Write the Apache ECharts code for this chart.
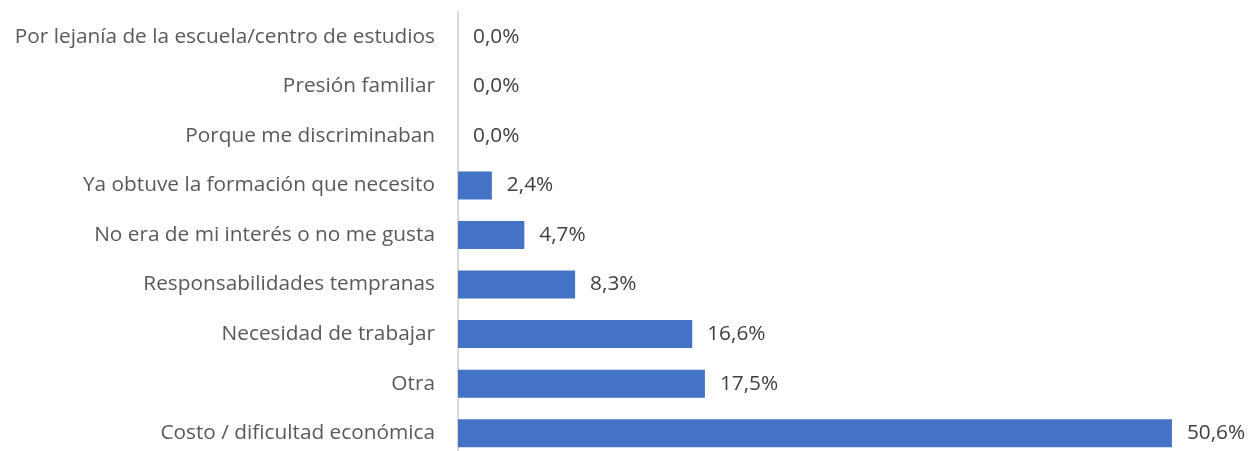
<!DOCTYPE html>
<html><head><meta charset="utf-8">
<script src="https://cdn.jsdelivr.net/npm/echarts@6/dist/echarts.min.js"></script>
<style>html,body{margin:0;padding:0;background:#fff}#c{width:1250px;height:451px}</style>
</head><body><div id="c"></div>
<script>
const categories = [
  "Costo / dificultad económica",
  "Otra",
  "Necesidad de trabajar",
  "Responsabilidades tempranas",
  "No era de mi interés o no me gusta",
  "Ya obtuve la formación que necesito",
  "Porque me discriminaban",
  "Presión familiar",
  "Por lejanía de la escuela/centro de estudios"
];
const values = [50.6, 17.5, 16.6, 8.3, 4.7, 2.4, 0.0, 0.0, 0.0];

const chart = echarts.init(document.getElementById('c'));
const font = '"Open Sans", sans-serif';
chart.setOption({
  animation: false,
  grid: { left: 458, width: 776, top: 12, height: 446, containLabel: false, outerBoundsMode: 'none' },
  xAxis: {
    type: 'value', min: 0, max: 55, show: false
  },
  yAxis: {
    type: 'category', data: categories,
    axisLine: { show: true, lineStyle: { color: '#d9d9d9', width: 2 } },
    axisTick: { show: false },
    axisLabel: { color: '#595959', fontSize: 20.8, fontFamily: font, margin: 23 }
  },
  series: [{
    type: 'bar', data: values, barWidth: 28,
    itemStyle: { color: '#4472c4' },
    label: {
      show: true, position: 'right', distance: 15,
      color: '#404040', fontSize: 20.8, fontFamily: font,
      formatter: p => p.value.toFixed(1).replace('.', ',') + '%'
    }
  }]
});
</script></body></html>
